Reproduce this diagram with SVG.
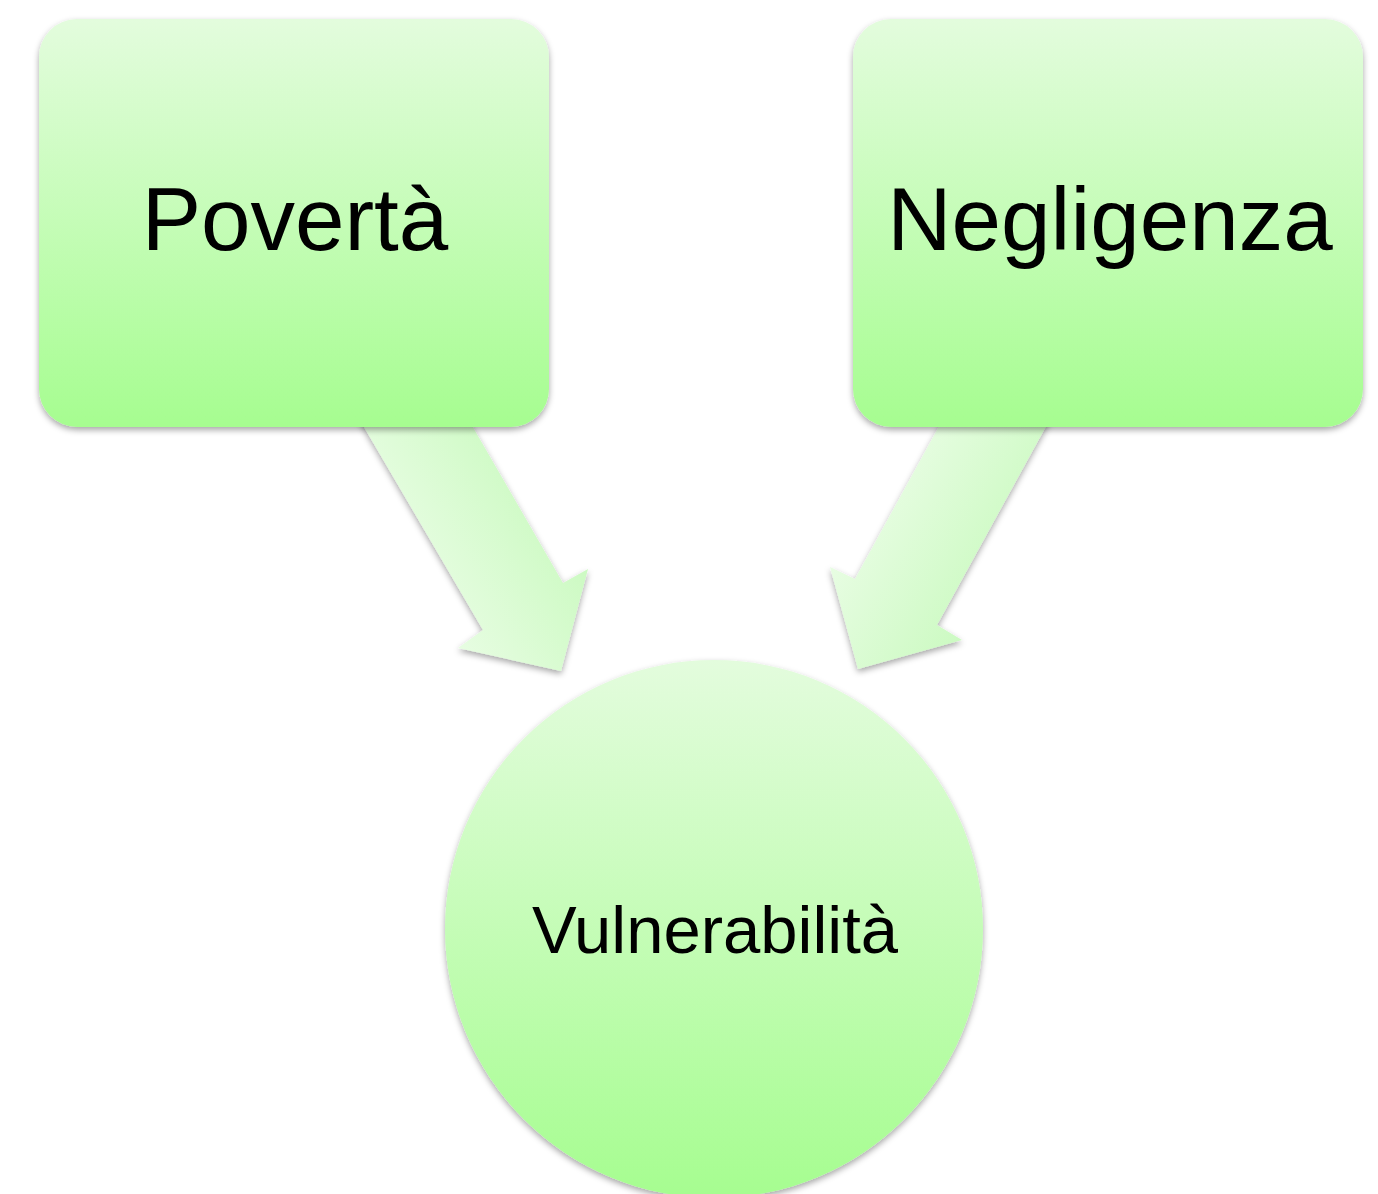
<svg xmlns="http://www.w3.org/2000/svg" width="1378" height="1194" viewBox="0 0 1378 1194">
  <defs>
    <linearGradient id="nodeGrad" x1="0" y1="0" x2="0" y2="1">
      <stop offset="0" stop-color="#e3fcdd"/>
      <stop offset="1" stop-color="#a6fd90"/>
    </linearGradient>
    <linearGradient id="arrowGradL" gradientUnits="userSpaceOnUse" x1="400" y1="560" x2="540" y2="480">
      <stop offset="0" stop-color="#e8fde3"/>
      <stop offset="1" stop-color="#ccfac2"/>
    </linearGradient>
    <linearGradient id="arrowGradR" gradientUnits="userSpaceOnUse" x1="880" y1="480" x2="1010" y2="560">
      <stop offset="0" stop-color="#e8fde3"/>
      <stop offset="1" stop-color="#ccfac2"/>
    </linearGradient>
    <filter id="shadow" x="-10%" y="-10%" width="120%" height="125%">
      <feDropShadow dx="0" dy="3" stdDeviation="3" flood-color="#000" flood-opacity="0.35"/>
    </filter>
  </defs>
  <style>
    .node { fill: url(#nodeGrad); filter: url(#shadow); }
    .lbl { font-family: "Liberation Sans", Arial, sans-serif; fill: #000; text-anchor: middle; }
    .big { font-size: 89px; }
    .mid { font-size: 67px; }
    .arrow { filter: url(#shadow); }
  </style>
  <rect width="1378" height="1194" fill="#ffffff"/>
  <g id="connectors">
    <polygon class="arrow" fill="url(#arrowGradL)" points="354,410 463,410 563,583 588,569 561,671 458,648 483,630"/>
    <polygon class="arrow" fill="url(#arrowGradR)" points="948,410 1055,410 937,625 962,640 858,669 830,567 855,579"/>
  </g>
  <g id="node-poverta">
    <rect class="node" x="39" y="19" width="510" height="408" rx="38" ry="38"/>
    <text class="lbl big" x="295" y="250">Povertà</text>
  </g>
  <g id="node-negligenza">
    <rect class="node" x="853" y="19" width="510" height="408" rx="38" ry="38"/>
    <text class="lbl big" x="1110" y="250">Negligenza</text>
  </g>
  <g id="node-vulnerabilita">
    <circle class="node" cx="714" cy="929" r="269"/>
    <text class="lbl mid" x="715" y="953">Vulnerabilità</text>
  </g>
</svg>
